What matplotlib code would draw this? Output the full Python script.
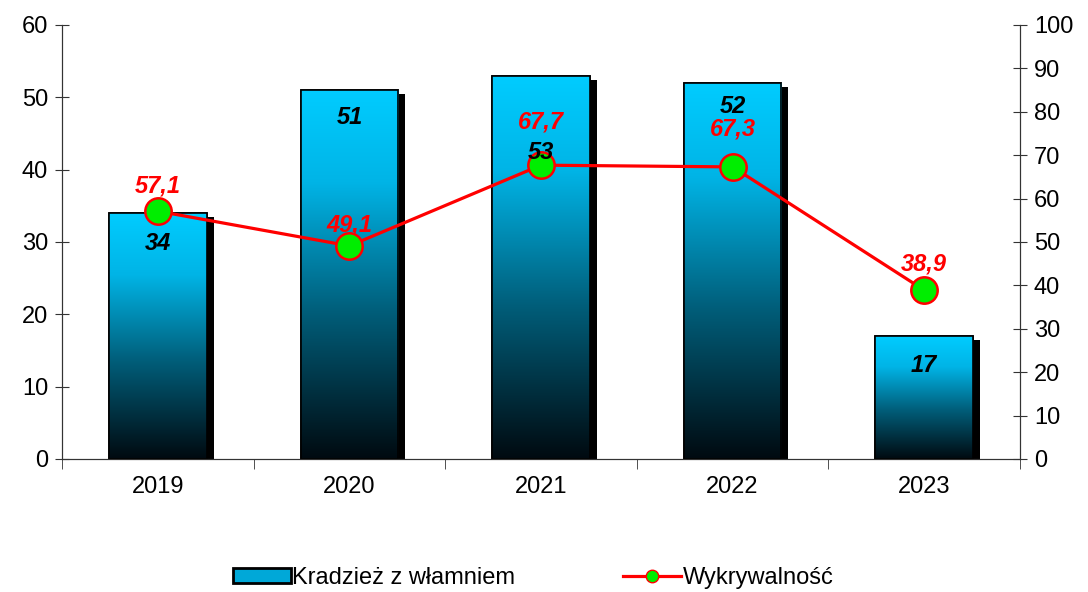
import numpy as np
import matplotlib
matplotlib.use('Agg')
import matplotlib.pyplot as plt
import matplotlib.patheffects as pe
from matplotlib.colors import LinearSegmentedColormap
from matplotlib.patches import Rectangle
from matplotlib.lines import Line2D

years = ['2019', '2020', '2021', '2022', '2023']
thefts = [34, 51, 53, 52, 17]
detection = [57.1, 49.1, 67.7, 67.3, 38.9]
theft_label_offsets = [-22, -20, -55, -17, -21]   # points, below bar top
detect_label_offsets = [18, 15, 31, 27, 19]        # points, above marker

plt.rcParams['font.family'] = ['Liberation Sans', 'DejaVu Sans']

fig = plt.figure(figsize=(10.88, 5.92), dpi=100)
ax = fig.add_axes([0.057, 0.2247, 0.8805, 0.7331])
ax2 = ax.twinx()

x = np.arange(len(years))
width = 0.51

# bars with drop shadow, then gradient clipped into each bar
bars = ax.bar(x, thefts, width=width, color='black', edgecolor='black', linewidth=1.2, zorder=2,
              path_effects=[pe.SimplePatchShadow(offset=(5, -3), shadow_rgbFace='black', alpha=1), pe.Normal()])
cmap = LinearSegmentedColormap.from_list('grad', [(0, '#000a10'), (0.4, '#005e7a'),
                                                  (0.75, '#00b4e6'), (1, '#00ccff')])
grad = np.linspace(0, 1, 256).reshape(-1, 1)
for b in bars:
    im = ax.imshow(grad, extent=[b.get_x(), b.get_x() + b.get_width(), 0, b.get_height()],
                   origin='lower', aspect='auto', cmap=cmap, zorder=2.5)
    im.set_clip_path(b)
ax.bar(x, thefts, width=width, fill=False, edgecolor='black', linewidth=1.2, zorder=3)

ax.set_xlim(-0.5, len(years) - 0.5)
ax.set_ylim(0, 60)
ax.set_yticks(range(0, 61, 10))
ax.set_xticks(x)
ax.set_xticklabels(years)
ax.set_xticks(np.arange(-0.5, len(years), 1), minor=True)
ax.tick_params(axis='x', which='major', length=0, labelsize=17, pad=12)
ax.tick_params(axis='x', which='minor', length=7, direction='out', color='#333333')
ax.tick_params(axis='y', length=10, direction='inout', labelsize=17, pad=5, color='#333333')

ax2.plot(x, detection, color='#ff0000', linewidth=2.3, marker='o', markersize=19,
         markerfacecolor='#00ee00', markeredgecolor='#ff0000', markeredgewidth=1.8, zorder=4)
for xi, v, off in zip(x, detection, detect_label_offsets):
    ax2.annotate(('%.1f' % v).replace('.', ','), (xi, v), xytext=(0, off), textcoords='offset points',
                 ha='center', va='center', fontsize=17, fontweight='bold', fontstyle='italic', color='#ff0000')
# bar value labels drawn above the line layer
for xi, v, off in zip(x, thefts, theft_label_offsets):
    ax2.annotate(str(v), (xi, v), xycoords=ax.transData, xytext=(0, off), textcoords='offset points',
                 ha='center', va='center', fontsize=17, fontweight='bold', fontstyle='italic',
                 color='black', zorder=6)
ax2.set_ylim(0, 100)
ax2.set_yticks(range(0, 101, 10))
ax2.tick_params(axis='y', length=10, direction='inout', labelsize=17, pad=5, color='#333333')

for a in (ax, ax2):
    a.spines['top'].set_visible(False)
    for s in ('left', 'right', 'bottom'):
        a.spines[s].set_color('#333333')
ax.set_zorder(1)
ax2.set_zorder(2)
ax2.patch.set_visible(False)

handles = [Rectangle((0, 0), 1, 1, facecolor='#00a8d8', edgecolor='black', linewidth=2),
           Line2D([], [], color='#ff0000', linewidth=2.3, marker='o', markersize=9,
                  markerfacecolor='#00ee00', markeredgecolor='#ff0000')]
fig.legend(handles, ['Kradzież z włamniem', 'Wykrywalność'], loc='center', bbox_to_anchor=(0.49, 0.024),
           ncol=2, frameon=False, fontsize=17, handlelength=2.45, handleheight=0.6, handletextpad=0.05,
           columnspacing=4.6)

fig.savefig('out.png', dpi=100)
